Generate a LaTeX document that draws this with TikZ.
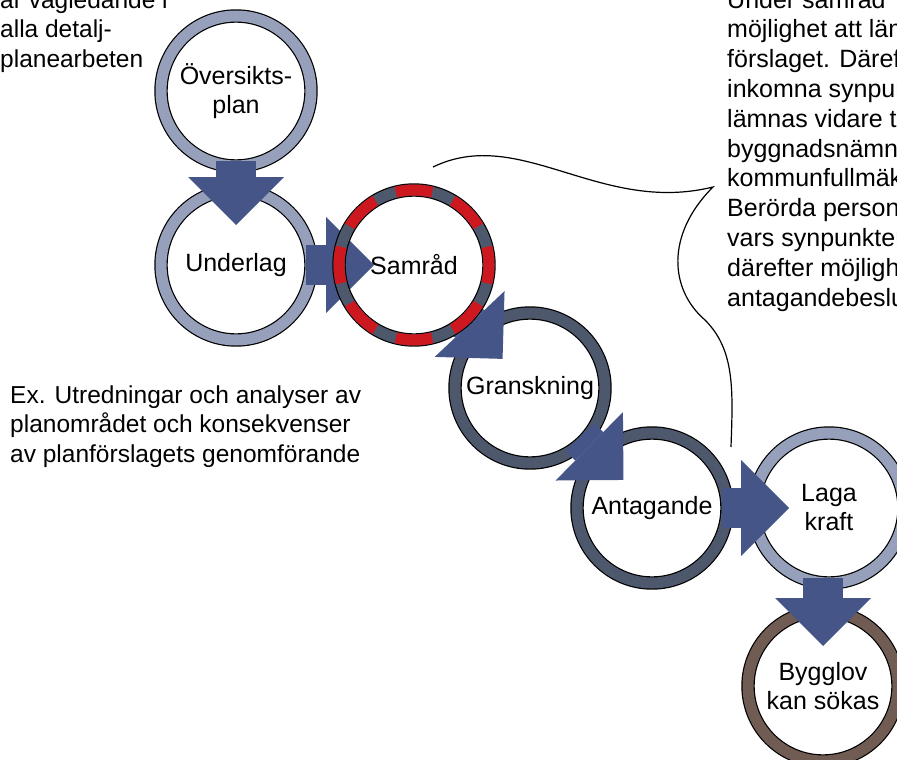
\documentclass[tikz,border=0pt]{standalone}
\usepackage{fontspec}
\setmainfont{Liberation Sans}
\usetikzlibrary{positioning}
\usetikzlibrary{arrows.meta}

\definecolor{lightring}{RGB}{151,160,186}
\definecolor{slate}{RGB}{78,88,108}
\definecolor{samred}{RGB}{204,24,30}
\definecolor{brownring}{RGB}{112,92,82}
\definecolor{flowblue}{RGB}{70,85,135}

\pgfdeclarelayer{front}
\pgfsetlayers{main,front}

\newcommand{\stagefont}{\fontsize{25}{29}\selectfont}
\newcommand{\notefont}{\fontsize{24.5}{29.4}\selectfont}
\newcommand{\widenotefont}{\fontsize{25}{29.8}\selectfont}

\begin{document}
\begin{tikzpicture}[x=1pt, y=1pt, on grid, stage/.style={circle, draw=black, line width=1.2pt, double=#1, double distance=11pt, minimum size=150pt, inner sep=0pt, align=center, font=\stagefont}, flow/.style={draw=flowblue, line width=40pt, -{Triangle[length=48pt, width=96pt, line width=0pt]}, shorten <=70pt, shorten >=40pt}, note/.style={align=left, inner sep=0pt, anchor=base west, font=\notefont}, callout/.style={draw=black, line width=1.2pt}]

    \useasboundingbox (0,0) rectangle (897,-760);
    \clip (0,0) rectangle (897,-760);

    %Stages
    \node[stage=lightring](ov) at (236,-91) {Översikts-\\plan};
    \node[stage=lightring](un)[below=174pt of ov]{Underlag};
    \begin{pgfonlayer}{front}
    \node[stage=slate](sa)[right=178pt of un]{Samråd};
    \draw[samred, line width=11pt, dash pattern=on 36.6pt off 22.305pt, dash phase=18.3pt] (sa.center) circle[radius=75];
    \end{pgfonlayer}
    \node[stage=slate](gr)[below right=123pt and 116pt of sa]{Granskning};
    \node[stage=slate](an)[below right=120pt and 122pt of gr]{Antagande};
    \node[stage=lightring](lk)[right=177pt of an]{Laga\\kraft};
    \node[stage=brownring](bl)[below left=178pt and 6pt of lk]{Bygglov\\kan sökas};

    %Notes (anchored at the baseline of the last line)
    \node[note](plannote) at (0,-67) {är vägledande i\\alla detalj-\\planearbeten};
    \node[note](studynote) at (10,-462) {Ex. Utredningar och analyser av\\planområdet och konsekvenser\\av planförslagets genomförande};
    \node[note, font=\widenotefont](consultnote) at (727,-306) {Under samråd\\möjlighet att lämna\\förslaget. Därefter\\inkomna synpunkter\\lämnas vidare till\\byggnadsnämnden\\kommunfullmäktige\\Berörda personer\\vars synpunkter\\därefter möjlighet\\antagandebeslutet};

    %Arrows
    \draw[flow] (ov.center) -- (un.center);
    \draw[flow] (un.center) -- (sa.center);
    \draw[flow] (sa.center) -- (gr.center);
    \draw[flow] (gr.center) -- (an.center);
    \draw[flow] (an.center) -- (lk.center);
    \draw[flow] (lk.center -| bl.center) -- (bl.center);

    %Callout
    \coordinate (calloutstart) at (433,-167);
    \coordinate (callouttip) at (713,-187);
    \coordinate (calloutend) at (731,-447);
    \draw[callout] (calloutstart) .. controls (520,-125) and (600,-215) .. (callouttip) .. controls (665,-235) and (670,-290) .. (705,-320) .. controls (735,-350) and (733,-390) .. (calloutend);

\end{tikzpicture}
\end{document}
